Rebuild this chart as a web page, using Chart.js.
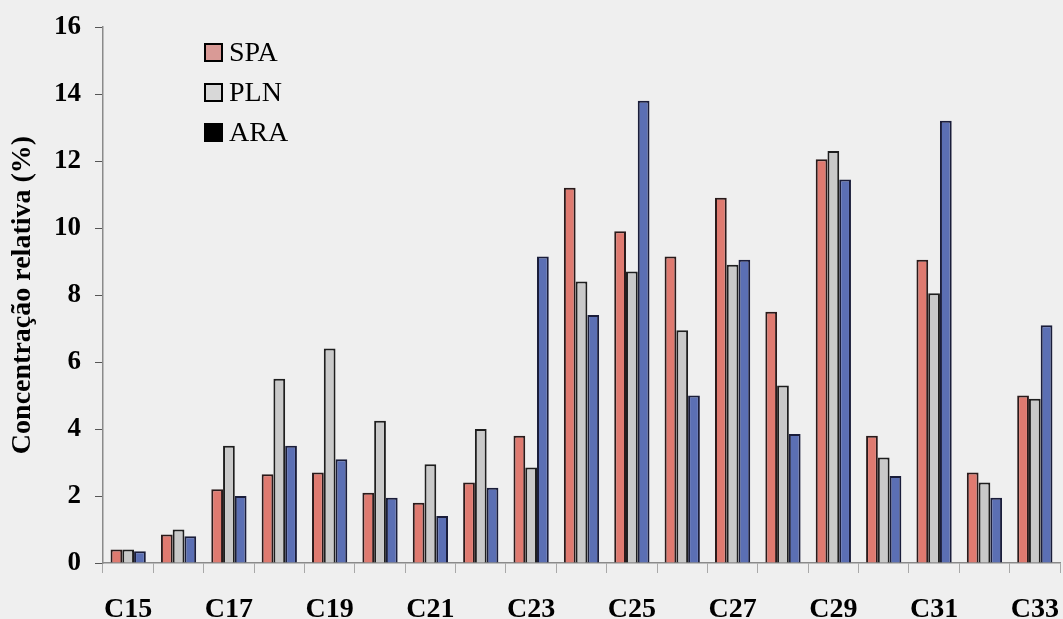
<!DOCTYPE html>
<html>
<head>
<meta charset="utf-8">
<script src="https://cdn.jsdelivr.net/npm/chart.js@4.4.1/dist/chart.umd.min.js"></script>
<style>
  html, body { margin: 0; padding: 0; background: #efefef; }
  #wrap { width: 1063px; height: 619px; position: relative; }
</style>
</head>
<body>
<div id="wrap"><canvas id="grafico"></canvas></div>
<script>
// dados (concentração relativa em %)
const categorias = ['C15','C16','C17','C18','C19','C20','C21','C22','C23','C24',
                    'C25','C26','C27','C28','C29','C30','C31','C32','C33'];
const valoresSPA = [0.4, 0.85, 2.2, 2.65, 2.7, 2.1, 1.8, 2.4, 3.8, 11.2,
                    9.9, 9.15, 10.9, 7.5, 12.05, 3.8, 9.05, 2.7, 5.0];
const valoresPLN = [0.4, 1.0, 3.5, 5.5, 6.4, 4.25, 2.95, 4.0, 2.85, 8.4,
                    8.7, 6.95, 8.9, 5.3, 12.3, 3.15, 8.05, 2.4, 4.9];
const valoresARA = [0.35, 0.8, 2.0, 3.5, 3.1, 1.95, 1.4, 2.25, 9.15, 7.4,
                    13.8, 5.0, 9.05, 3.85, 11.45, 2.6, 13.2, 1.95, 7.1];
const ticksY = [0, 2, 4, 6, 8, 10, 12, 14, 16];

const fonteSerif = '"Liberation Serif", "Times New Roman", serif';

// legenda desenhada dentro da área do gráfico (canto superior esquerdo)
const legendaInterna = {
    id: 'legendaInterna',
    afterDraw(chart) {
        const c = chart.ctx;
        const itens = [
            { texto: 'SPA', cor: '#d99a96' },
            { texto: 'PLN', cor: '#d8d8d8' },
            { texto: 'ARA', cor: '#000000' }
        ];
        c.save();
        c.font = '28px ' + fonteSerif;
        c.textBaseline = 'middle';
        itens.forEach((it, i) => {
            const y = 53 + i * 40;
            c.fillStyle = it.cor;
            c.fillRect(205, y - 9, 17, 17);
            c.strokeStyle = '#000';
            c.lineWidth = 2;
            c.strokeRect(205, y - 9, 17, 17);
            c.fillStyle = '#000';
            c.fillText(it.texto, 229, y + 1);
        });
        c.restore();
    }
};

const ctx = document.getElementById('grafico').getContext('2d');
const grafico = new Chart(ctx, {
    type: 'bar',
    data: {
        labels: categorias,
        datasets: [
            { label: 'SPA', data: valoresSPA, backgroundColor: '#df7a70', borderColor: '#2a1a1a', borderWidth: 2 },
            { label: 'PLN', data: valoresPLN, backgroundColor: '#c9c9c9', borderColor: '#1e1e1e', borderWidth: 2 },
            { label: 'ARA', data: valoresARA, backgroundColor: '#5b6fb4', borderColor: '#1a1d3a', borderWidth: 2 }
        ]
    },
    options: {
        responsive: true,
        maintainAspectRatio: false,
        animation: false,
        layout: { padding: { top: 27, right: 3, left: 0, bottom: 0 } },
        datasets: { bar: { categoryPercentage: 0.7, barPercentage: 1.0 } },
        plugins: {
            legend: { display: false },
            tooltip: { enabled: false }
        },
        scales: {
            x: {
                grid: { display: true, offset: true, drawOnChartArea: false, tickLength: 10, color: '#a8a8a8' },
                border: { display: true, color: '#8a8a8a', width: 1.5 },
                ticks: {
                    autoSkip: false,
                    maxRotation: 0,
                    padding: 20,
                    color: '#000',
                    font: { family: fonteSerif, size: 28, weight: 'bold' },
                    callback: (v, i) => (i % 2 === 0 ? categorias[i] : '')
                },
                afterFit: (s) => { s.height = 56; s.paddingLeft = 0; s.paddingRight = 0; }
            },
            y: {
                min: 0,
                max: 16,
                afterBuildTicks: (s) => { s.ticks = ticksY.map(v => ({ value: v })); },
                grid: { drawOnChartArea: false, tickLength: 8, color: '#555' },
                border: { display: true, color: '#8a8a8a', width: 1.5 },
                ticks: {
                    color: '#000',
                    padding: 14,
                    font: { family: fonteSerif, size: 27, weight: 'bold' }
                },
                title: {
                    display: true,
                    text: 'Concentração relativa (%)',
                    color: '#000',
                    padding: { top: 6, bottom: 0 },
                    font: { family: fonteSerif, size: 28, weight: 'bold' }
                },
                afterFit: (s) => { s.width = 103; s.paddingTop = 0; s.paddingBottom = 0; }
            }
        }
    },
    plugins: [legendaInterna]
});
</script>
</body>
</html>
